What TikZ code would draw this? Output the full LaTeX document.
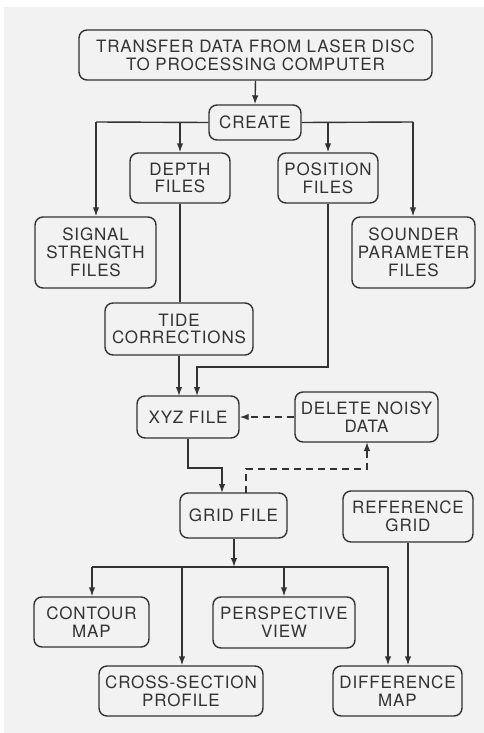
\documentclass[tikz,border=0pt]{standalone}
\usepackage{fontspec}
\setmainfont{TeX Gyre Heros}[LetterSpace=5]
\usetikzlibrary{arrows.meta}
\definecolor{bg}{HTML}{F2F2F2}
\definecolor{ink}{HTML}{333333}
\tikzset{
  box/.style={draw=ink, line width=1.4pt, rounded corners=8pt, text=ink, align=center,
    inner sep=0pt, font=\fontsize{17}{17.8}\selectfont},
  conn/.style={draw=ink, line width=1.4pt},
  arr/.style={conn, -{Latex[length=9pt,width=6.5pt]}},
  dashline/.style={conn, dash pattern=on 7pt off 5pt},
}
\begin{document}
\begin{tikzpicture}[x=1pt,y=-1pt]
\fill[white] (0,0) rectangle (484,733);
\fill[bg] (4,7) rectangle (484,733);
\useasboundingbox (0,0) rectangle (484,733);

\node[box, minimum width=353pt, minimum height=50pt] (top) at (255.5,55) {TRANSFER DATA FROM LASER DISC\\TO PROCESSING COMPUTER};
\node[box, minimum width=92pt, minimum height=35pt] (create) at (255,122.5) {CREATE};
\node[box, minimum width=100pt, minimum height=50pt] (depth) at (180,178) {DEPTH\\FILES};
\node[box, minimum width=100pt, minimum height=50pt] (pos) at (328,178) {POSITION\\FILES};
\node[box, minimum width=121pt, minimum height=71pt] (signal) at (95.5,252.5) {SIGNAL\\STRENGTH\\FILES};
\node[box, minimum width=123pt, minimum height=71pt] (sounder) at (413.5,252.5) {SOUNDER\\PARAMETER\\FILES};
\node[box, minimum width=148pt, minimum height=52pt] (tide) at (179,329) {TIDE\\CORRECTIONS};
\node[box, minimum width=102pt, minimum height=42pt] (xyz) at (188,417) {XYZ FILE};
\node[box, minimum width=143pt, minimum height=50pt] (delete) at (366.5,417) {DELETE NOISY\\DATA};
\node[box, minimum width=107pt, minimum height=45pt] (grid) at (233.5,515.5) {GRID FILE};
\node[box, minimum width=130pt, minimum height=51pt] (ref) at (408,516.5) {REFERENCE\\GRID};
\node[box, minimum width=115pt, minimum height=50pt] (contour) at (91.5,622) {CONTOUR\\MAP};
\node[box, minimum width=142pt, minimum height=51pt] (persp) at (284,622.5) {PERSPECTIVE\\VIEW};
\node[box, minimum width=164pt, minimum height=50pt] (cross) at (181,691) {CROSS-SECTION\\PROFILE};
\node[box, minimum width=129pt, minimum height=50pt] (diff) at (397.5,691) {DIFFERENCE\\MAP};

% top -> create
\draw[arr] (top.south) -- (create.north);
% create branches
\coordinate (cL) at (96,122);
\coordinate (cR) at (413,122);
\draw[conn] (create.west) -- (cL);
\draw[conn] (create.east) -- (cR);
\draw[arr] (cL) -- (cL |- signal.north);
\draw[arr] (cR) -- (cR |- sounder.north);
\coordinate (cD) at (180,122);
\coordinate (cP) at (328,122);
\draw[arr] (cD) -- (depth.north);
\draw[arr] (cP) -- (pos.north);
% depth -> tide
\draw[conn] (depth.south) -- (tide.north -| depth.south);
% tide -> xyz
\coordinate (xin1) at (179,396);
\draw[arr] (tide.south -| xin1) -- (xin1);
% position -> xyz
\coordinate (xin2) at (197,396);
\draw[arr] (pos.south) -- (328,367) -- (197,367) -- (xin2);
% delete -> xyz dashed
\draw[arr, dashline] (delete.west) -- (xyz.east);
% xyz -> grid
\coordinate (gin) at (222,493);
\draw[arr] (xyz.south) -- (188,468) -- (222,468) -- (gin);
% grid -> delete dashed
\coordinate (gout) at (246,493);
\coordinate (din) at (367,442);
\draw[arr, dashline] (gout) -- (246,469) -- (367,469) -- (din);
% grid -> bus
\coordinate (bus) at (234,567);
\coordinate (bL) at (92,567);
\coordinate (bC) at (182,567);
\coordinate (bP) at (284,567);
\coordinate (bR) at (388,567);
\draw[arr] (grid.south -| bus) -- (bus);
\draw[conn] (bL) -- (bR);
\draw[arr] (bL) -- (bL |- contour.north);
\draw[arr] (bC) -- (bC |- cross.north);
\draw[arr] (bP) -- (persp.north);
\draw[arr] (bR) -- (bR |- diff.north);
% reference -> difference
\draw[arr] (ref.south) -- (ref.south |- diff.north);
\end{tikzpicture}
\end{document}
